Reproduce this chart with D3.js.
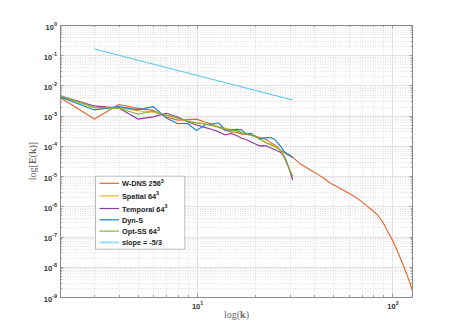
<!DOCTYPE html>
<html>
<head>
<meta charset="utf-8">
<script src="https://cdn.jsdelivr.net/npm/d3@7/dist/d3.min.js"></script>
<style>
  html, body { margin: 0; padding: 0; background: #fff; }
  svg { display: block; }
</style>
</head>
<body>
<div id="chart"></div>
<script>
// ---------------- DATA ----------------
const kLES = [2,3,4,5,6,7,8,9,10,11,12,13,14,15,16,17,18,19,20,21,22,23,24,25,26,27,28,29,30,31];

const kDNS = [2,3,4,5,6,7,8,9,10,11,12,13,14,15,16,17,18,19,20,21,22,23,24,25,26,27,28,29,30,31,32,
  34,36,38,40,42,45,48,51,54,58,62,66,70,75,80,85,90,95,100,105,110,115,120,124,128];
const eDNS = [4.0e-3,7.7e-4,2.35e-3,1.75e-3,1.5e-3,9.0e-4,7.1e-4,7.4e-4,7.7e-4,6.2e-4,5.3e-4,4.2e-4,3.3e-4,2.9e-4,2.85e-4,
  2.45e-4,2.4e-4,2.3e-4,2.1e-4,1.9e-4,1.75e-4,1.55e-4,1.28e-4,1.1e-4,9.1e-5,7.2e-5,6.0e-5,5.2e-5,4.6e-5,4.3e-5,3.5e-5,
  2.5e-5,2.0e-5,1.62e-5,1.35e-5,1.12e-5,8.3e-6,6.0e-6,4.9e-6,4.0e-6,3.1e-6,2.4e-6,1.9e-6,1.4e-6,9.8e-7,7.1e-7,
  4.8e-7,2.9e-7,1.45e-7,8.1e-8,4.1e-8,2.0e-8,1.0e-8,4.8e-9,2.7e-9,1.4e-9];

const eSpatial = [4.4e-3,1.8e-3,1.85e-3,1.45e-3,1.3e-3,1.0e-3,8.5e-4,6.5e-4,5.9e-4,5.4e-4,5.0e-4,4.4e-4,3.9e-4,3.5e-4,3.2e-4,
  2.8e-4,2.5e-4,2.3e-4,2.0e-4,1.7e-4,1.45e-4,1.25e-4,1.12e-4,1.0e-4,8.6e-5,7.2e-5,4.5e-5,2.6e-5,1.5e-5,8.5e-6];

const eTemporal = [4.5e-3,2.1e-3,1.8e-3,7.7e-4,9.1e-4,1.2e-3,9.0e-4,6.3e-4,4.9e-4,4.1e-4,3.5e-4,2.9e-4,2.3e-4,2.6e-4,2.2e-4,
  1.8e-4,1.6e-4,1.35e-4,1.15e-4,1.0e-4,1.02e-4,9.8e-5,8.5e-5,7.6e-5,6.8e-5,6.0e-5,4.6e-5,2.8e-5,1.5e-5,7.4e-6];

const eDynS = [4.2e-3,1.55e-3,2.0e-3,1.55e-3,2.0e-3,8.4e-4,5.5e-4,5.5e-4,3.2e-4,4.9e-4,5.3e-4,5.7e-4,3.3e-4,3.4e-4,3.5e-4,
  3.4e-4,2.5e-4,2.6e-4,2.0e-4,1.7e-4,1.8e-4,1.9e-4,1.85e-4,1.65e-4,1.25e-4,9.5e-5,6.5e-5,5.5e-5,5.0e-5,4.0e-5];

const eOptSS = [4.6e-3,1.9e-3,1.75e-3,1.13e-3,1.4e-3,1.05e-3,8.3e-4,6.6e-4,5.7e-4,5.3e-4,4.7e-4,4.1e-4,3.7e-4,3.3e-4,3.2e-4,
  2.75e-4,2.45e-4,2.2e-4,2.1e-4,1.7e-4,1.4e-4,1.2e-4,1.07e-4,9.5e-5,8.2e-5,6.8e-5,4.3e-5,2.5e-5,1.6e-5,1.0e-5];

const kSlope = [3, 31];
const eSlope = [0.16, 0.0033];

const seriesNames = ["W-DNS 256^3", "Spatial 64^3", "Temporal 64^3", "Dyn-S", "Opt-SS 64^3", "slope = -5/3"];
const seriesColors = ["#E8632C", "#EEB530", "#8A3C9C", "#1A80C8", "#7CB53A", "#5CC6F0"];

const xTickValues = [10, 100];
const xTickExp = ["1", "2"];
const yTickValues = [1, 1e-1, 1e-2, 1e-3, 1e-4, 1e-5, 1e-6, 1e-7, 1e-8, 1e-9];
const yTickExp = ["0", "-1", "-2", "-3", "-4", "-5", "-6", "-7", "-8", "-9"];

// ---------------- CHART ----------------
const W = 457, H = 334;
const M = { left: 60, right: 44, top: 25, bottom: 37 };
const svg = d3.select("#chart").append("svg").attr("width", W).attr("height", H);

const x = d3.scaleLog().domain([2, 128]).range([M.left, W - M.right]);
const y = d3.scaleLog().domain([1e-9, 1]).range([H - M.bottom, M.top]);
const x0 = x.range()[0], x1 = x.range()[1], y0 = y.range()[1], y1 = y.range()[0];

// grid
const xMinor = [], yMinor = [];
[1, 10, 100].forEach(d => { for (let m = 2; m <= 9; m++) { const v = m * d; if (v > 2 && v < 128) xMinor.push(v); } });
for (let e = -9; e < 0; e++) for (let m = 2; m <= 9; m++) yMinor.push(m * Math.pow(10, e));

const g = svg.append("g");
g.selectAll(".xmin").data(xMinor).join("line")
  .attr("x1", d => Math.round(x(d)) + 0.5).attr("x2", d => Math.round(x(d)) + 0.5)
  .attr("y1", y0).attr("y2", y1)
  .attr("stroke", "#d4d4d4").attr("stroke-width", 0.7).attr("stroke-dasharray", "1,1.5");
g.selectAll(".ymin").data(yMinor).join("line")
  .attr("y1", d => Math.round(y(d)) + 0.5).attr("y2", d => Math.round(y(d)) + 0.5)
  .attr("x1", x0).attr("x2", x1)
  .attr("stroke", "#d4d4d4").attr("stroke-width", 0.7).attr("stroke-dasharray", "1,1.5");
g.selectAll(".xmaj").data(xTickValues).join("line")
  .attr("x1", d => Math.round(x(d)) + 0.5).attr("x2", d => Math.round(x(d)) + 0.5)
  .attr("y1", y0).attr("y2", y1).attr("stroke", "#e2e2e2").attr("stroke-width", 1);
g.selectAll(".ymaj").data(yTickValues.slice(1, -1)).join("line")
  .attr("y1", d => Math.round(y(d)) + 0.5).attr("y2", d => Math.round(y(d)) + 0.5)
  .attr("x1", x0).attr("x2", x1).attr("stroke", "#e2e2e2").attr("stroke-width", 1);

// ticks (inside, on all four sides)
const tickCol = "#8a8a8a";
const ticks = svg.append("g").attr("stroke", tickCol).attr("stroke-width", 0.8);
const xt = xTickValues.map(v => ({ v, L: 3.5 })).concat(xMinor.map(v => ({ v, L: 2 })));
const yt = yTickValues.map(v => ({ v, L: 3.5 })).concat(yMinor.map(v => ({ v, L: 2 })));
xt.forEach(t => {
  const px = Math.round(x(t.v)) + 0.5;
  ticks.append("line").attr("x1", px).attr("x2", px).attr("y1", y1).attr("y2", y1 - t.L);
  ticks.append("line").attr("x1", px).attr("x2", px).attr("y1", y0).attr("y2", y0 + t.L);
});
yt.forEach(t => {
  const py = Math.round(y(t.v)) + 0.5;
  ticks.append("line").attr("y1", py).attr("y2", py).attr("x1", x0).attr("x2", x0 + t.L);
  ticks.append("line").attr("y1", py).attr("y2", py).attr("x1", x1).attr("x2", x1 - t.L);
});

// data lines
const clip = svg.append("clipPath").attr("id", "clip").append("rect")
  .attr("x", x0).attr("y", y0).attr("width", x1 - x0).attr("height", y1 - y0);
const line = d3.line().x(d => x(d[0])).y(d => y(d[1]));
const zip = (ks, es) => ks.map((k, i) => [k, es[i]]);
const seriesData = [
  zip(kDNS, eDNS), zip(kLES, eSpatial), zip(kLES, eTemporal),
  zip(kLES, eDynS), zip(kLES, eOptSS), zip(kSlope, eSlope)
];
const plotG = svg.append("g").attr("clip-path", "url(#clip)");
seriesData.forEach((data, i) => {
  plotG.append("path").datum(data).attr("d", line)
    .attr("fill", "none").attr("stroke", seriesColors[i])
    .attr("stroke-width", 1.15).attr("stroke-linejoin", "round");
});

// box
svg.append("rect").attr("x", x0 + 0.5).attr("y", y0 + 0.5)
  .attr("width", x1 - x0 - 1).attr("height", y1 - y0)
  .attr("fill", "none").attr("stroke", tickCol).attr("stroke-width", 1);

// tick labels
const labFont = "'Liberation Sans', Arial, Helvetica, sans-serif";
yTickValues.forEach((v, i) => {
  const t = svg.append("text").attr("x", x0 - 3).attr("y", y(v) + 4.5)
    .attr("text-anchor", "end").attr("font-family", labFont).attr("font-weight", "bold")
    .attr("font-size", 7.5).attr("fill", "#333");
  t.append("tspan").text("10");
  t.append("tspan").attr("dy", -4).attr("font-size", 5.5).text(yTickExp[i]);
});
xTickValues.forEach((v, i) => {
  const t = svg.append("text").attr("x", x(v) + 1).attr("y", y1 + 12)
    .attr("text-anchor", "middle").attr("font-family", labFont).attr("font-weight", "bold")
    .attr("font-size", 7.5).attr("fill", "#333");
  t.append("tspan").text("10");
  t.append("tspan").attr("dy", -4).attr("font-size", 5.5).text(xTickExp[i]);
});

// axis labels (LaTeX-like serif)
const serif = "'Liberation Serif', 'DejaVu Serif', serif";
const xl = svg.append("text").attr("x", (x0 + x1) / 2).attr("y", y1 + 21)
  .attr("text-anchor", "middle").attr("font-family", serif).attr("font-size", 10).attr("fill", "#666");
xl.append("tspan").text("log(");
xl.append("tspan").attr("font-weight", "bold").text("k");
xl.append("tspan").text(")");

const yl = svg.append("text").attr("transform", `translate(${36},${(y0 + y1) / 2}) rotate(-90)`)
  .attr("text-anchor", "middle").attr("font-family", serif).attr("font-size", 10).attr("fill", "#666");
yl.append("tspan").text("log[");
yl.append("tspan").attr("font-weight", "bold").text("E");
yl.append("tspan").text("(");
yl.append("tspan").attr("font-weight", "bold").text("k");
yl.append("tspan").text(")]");

// legend
const lg = svg.append("g");
const lgX = 95, lgY = 175.7, lgW = 89.3;
let cy = lgY + 1.3;
const rows = seriesNames.map((name, i) => {
  const hasSup = name.includes("^");
  const h = hasSup ? 12.6 : 10.0;
  const r = { name, i, center: cy + h / 2, hasSup };
  cy += h;
  return r;
});
const lgH = cy + 1.3 - lgY;
lg.append("rect").attr("x", lgX + 0.5).attr("y", lgY + 0.5).attr("width", lgW).attr("height", lgH)
  .attr("fill", "#fff").attr("stroke", "#bdbdbd").attr("stroke-width", 1);
rows.forEach(r => {
  lg.append("line").attr("x1", lgX + 4.5).attr("x2", lgX + 24).attr("y1", r.center).attr("y2", r.center)
    .attr("stroke", seriesColors[r.i]).attr("stroke-width", r.i === 5 ? 2 : 1.2)
    .attr("stroke-opacity", r.i === 5 ? 0.6 : 1);
  const parts = r.name.split("^");
  const t = lg.append("text").attr("x", lgX + 27).attr("y", r.center + 3)
    .attr("font-family", labFont).attr("font-weight", "bold").attr("font-size", 7.3).attr("fill", "#222");
  t.append("tspan").text(parts[0]);
  if (parts[1]) t.append("tspan").attr("dy", -3.5).attr("font-size", 5.3).text(parts[1]);
});
</script>
</body>
</html>
